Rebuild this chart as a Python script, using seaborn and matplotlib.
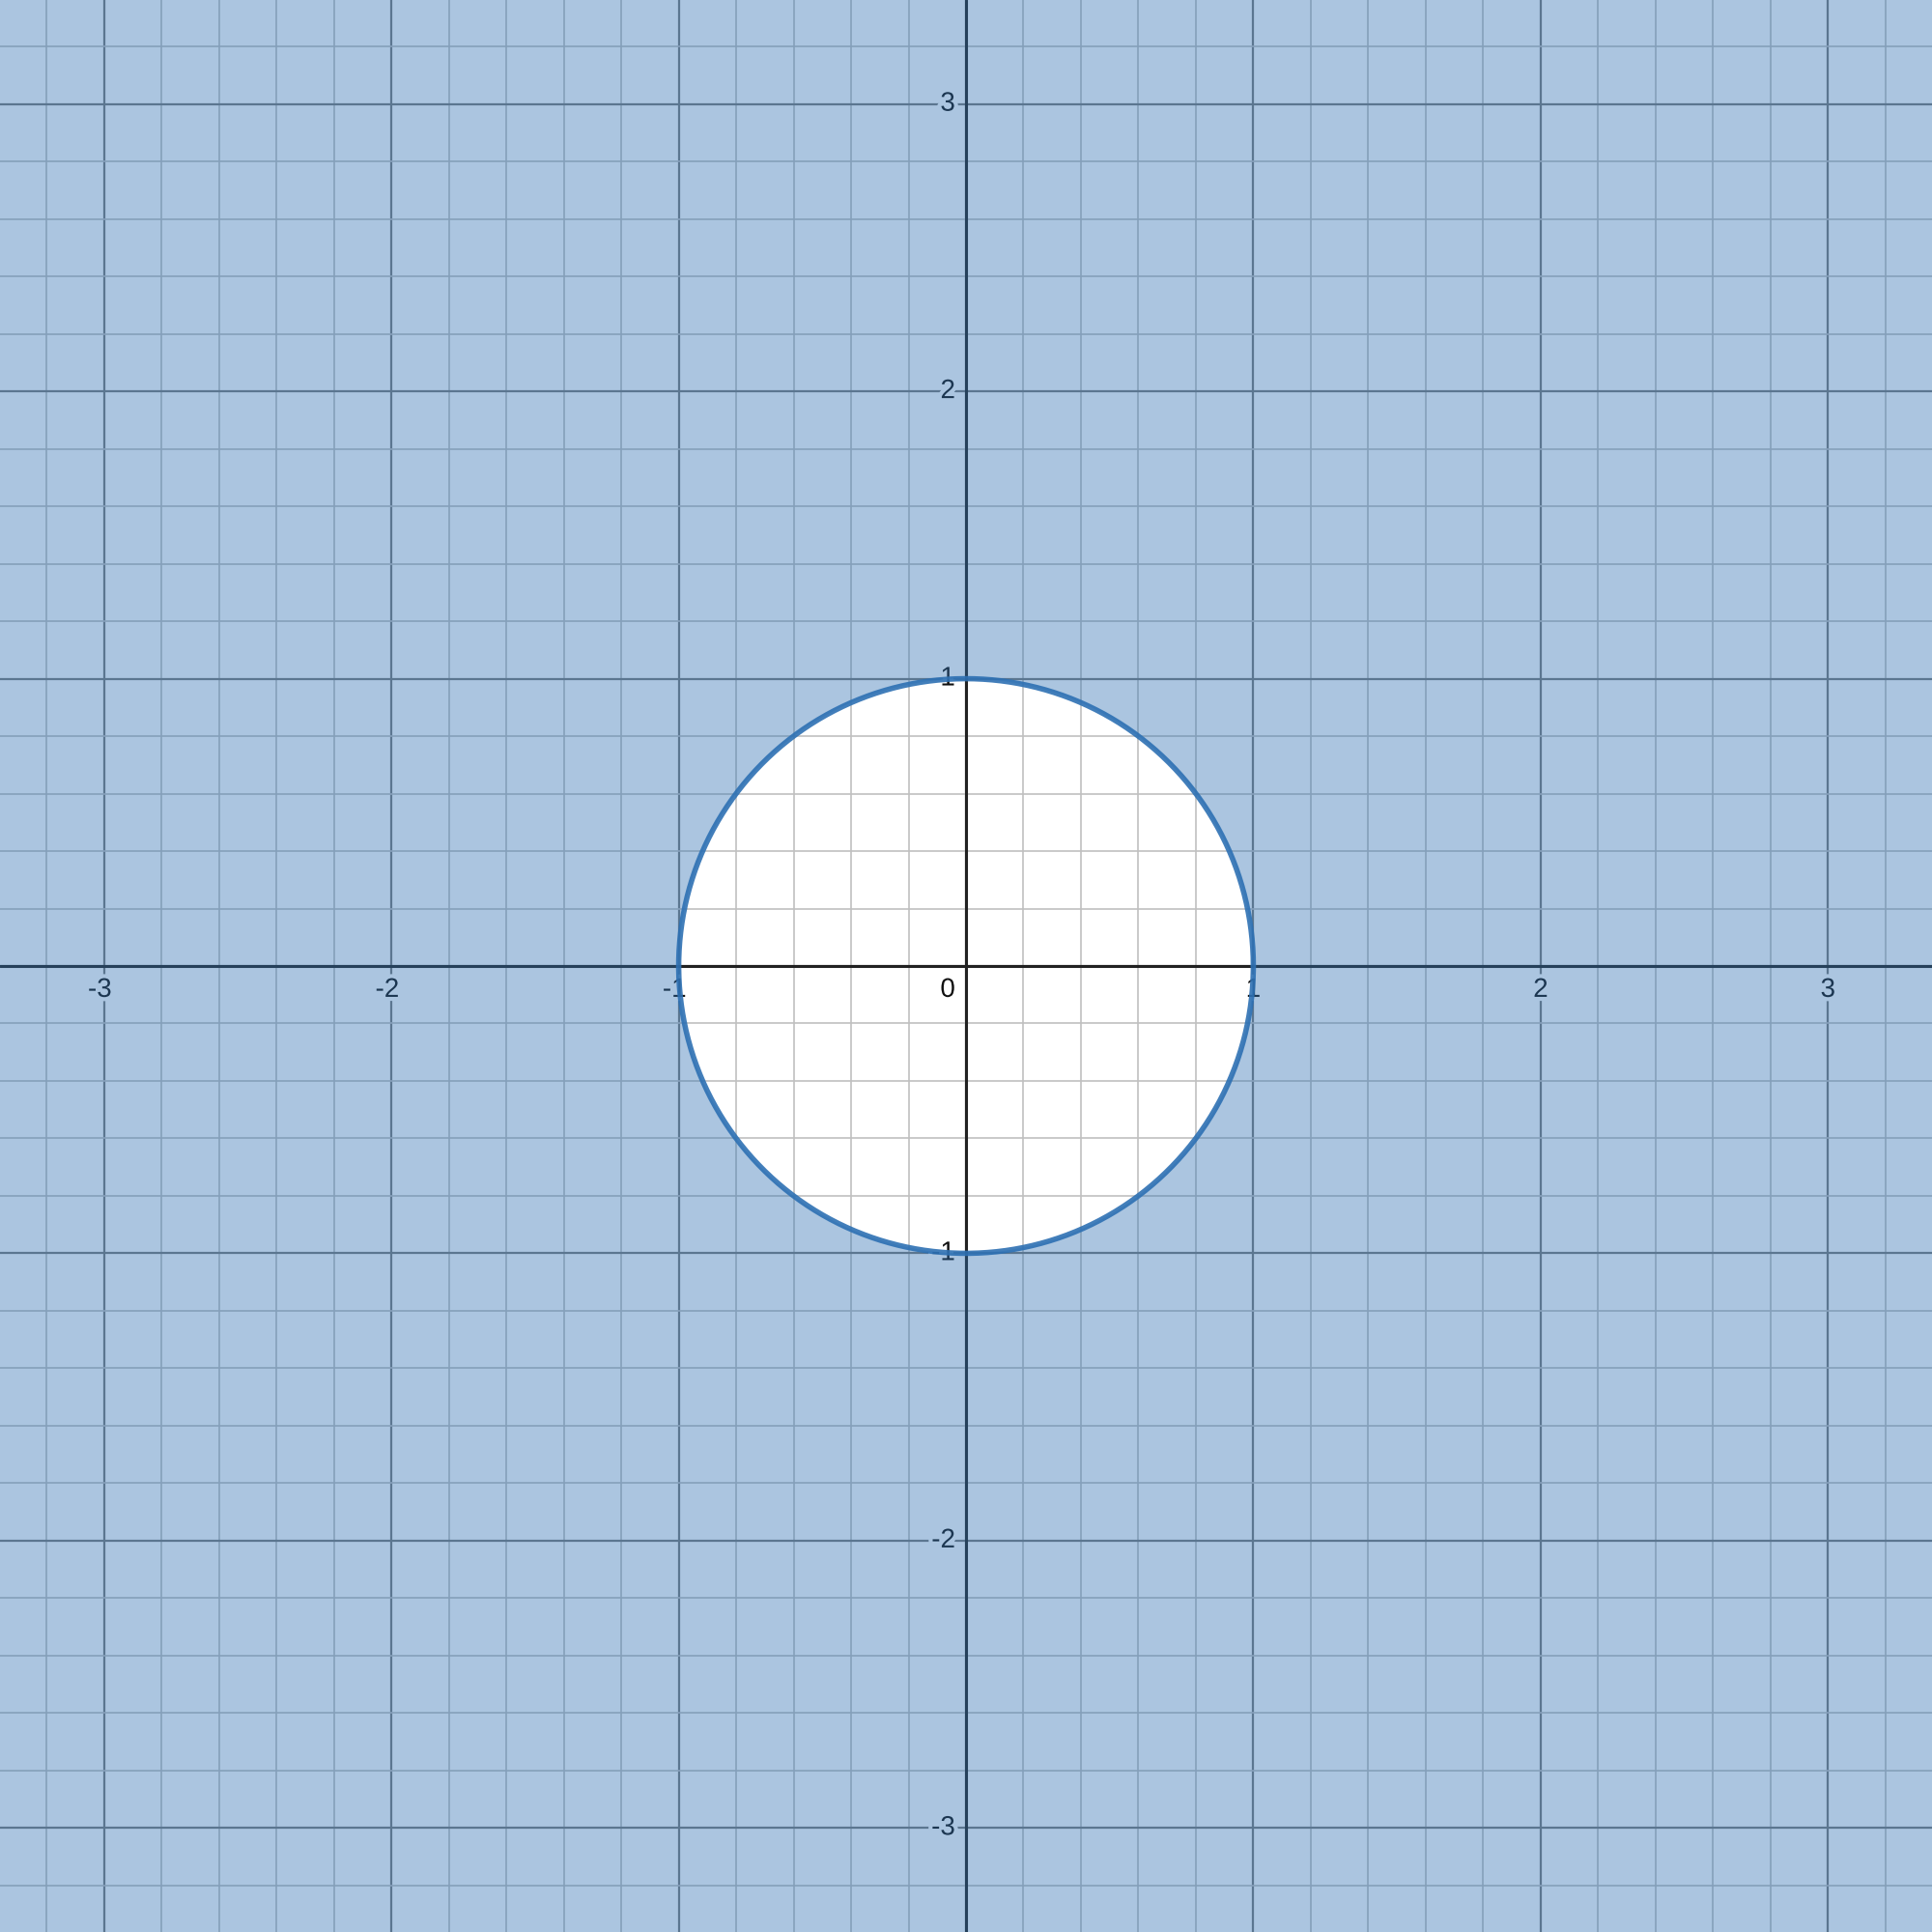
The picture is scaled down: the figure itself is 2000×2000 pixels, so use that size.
import numpy as np
import matplotlib
matplotlib.use("Agg")
import matplotlib.pyplot as plt
import matplotlib.patheffects as pe
from matplotlib.path import Path
from matplotlib.patches import PathPatch
import seaborn as sns

# dados: circulo x^2 + y^2 = r^2, sombreado por fora
raio = 1.0
limite = 3.362
ticks_x = [-3, -2, -1, 1, 2, 3]
ticks_y = [-3, -2, -1, 1, 2, 3]
rotulos_x = ["-3", "-2", "-1", "1", "2", "3"]
rotulos_y = ["-3", "-2", "-1", "1", "2", "3"]

azul = "#2d70b3"

sns.set_style("white")
plt.rcParams['font.family'] = ['Liberation Sans', 'DejaVu Sans']

fig = plt.figure(figsize=(10, 10), dpi=200)
ax = fig.add_axes([0, 0, 1, 1])
ax.set_xlim(-limite, limite)
ax.set_ylim(-limite, limite)

# grade
ax.set_xticks(np.arange(-3, 4, 1))
ax.set_yticks(np.arange(-3, 4, 1))
ax.set_xticks(np.arange(-3.2, 3.4, 0.2), minor=True)
ax.set_yticks(np.arange(-3.2, 3.4, 0.2), minor=True)
ax.grid(which='major', color='#7a7a7a', linewidth=0.8, zorder=0.5)
ax.grid(which='minor', color='#c0c0c0', linewidth=0.6, zorder=0.4)
ax.set_axisbelow(True)
ax.tick_params(which='both', length=0, labelbottom=False, labelleft=False)
for s in ax.spines.values():
    s.set_visible(False)

# eixos
ax.axhline(0, color='#222222', linewidth=1.1, zorder=2)
ax.axvline(0, color='#222222', linewidth=1.1, zorder=2)

halo = [pe.withStroke(linewidth=3, foreground='white')]
fs = 10
for v, t in zip(ticks_x, rotulos_x):
    if v < 0:
        ax.annotate(t, (v, 0), xytext=(2.9, -4.3), textcoords='offset points',
                    ha='right', va='top', fontsize=fs, color='#111111',
                    path_effects=halo, zorder=3)
    else:
        ax.annotate(t, (v, 0), xytext=(0, -4.3), textcoords='offset points',
                    ha='center', va='top', fontsize=fs, color='#111111',
                    path_effects=halo, zorder=3)
for v, t in zip(ticks_y, rotulos_y):
    ax.annotate(t, (0, v), xytext=(-4, 0), textcoords='offset points',
                ha='right', va='center', fontsize=fs, color='#111111',
                path_effects=halo, zorder=3)
ax.annotate("0", (0, 0), xytext=(-4, -4.3), textcoords='offset points',
            ha='right', va='top', fontsize=fs, color='#111111',
            path_effects=halo, zorder=3)

# sombreado fora do circulo
theta = np.linspace(0, 2 * np.pi, 400)
cx = raio * np.cos(theta)
cy = raio * np.sin(theta)
L = limite + 1
externo = np.array([[-L, -L], [L, -L], [L, L], [-L, L], [-L, -L]])
interno = np.column_stack([cx, cy])[::-1]
verts = np.vstack([externo, interno])
codes = ([Path.MOVETO] + [Path.LINETO] * 3 + [Path.CLOSEPOLY] +
         [Path.MOVETO] + [Path.LINETO] * (len(interno) - 1))
ax.add_patch(PathPatch(Path(verts, codes), facecolor=azul, alpha=0.4,
                       edgecolor='none', zorder=4))

# contorno
sns.lineplot(x=cx, y=cy, sort=False, estimator=None, ax=ax, color=azul,
             linewidth=2.0, alpha=0.9, zorder=5)

fig.savefig('out.png', dpi=200)
